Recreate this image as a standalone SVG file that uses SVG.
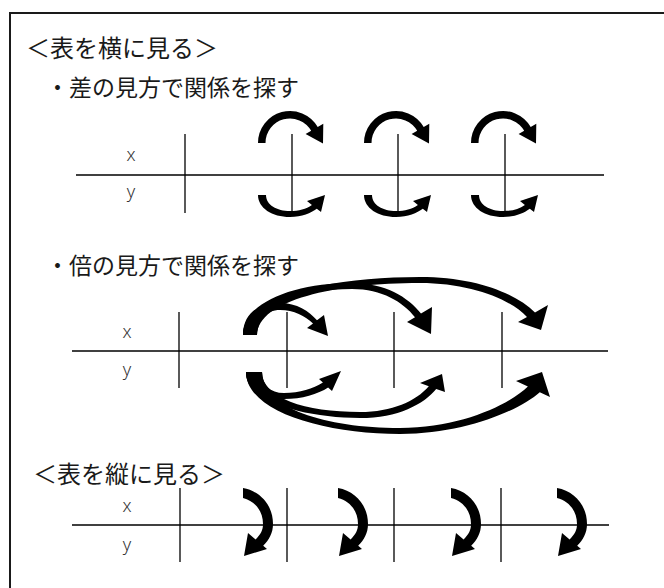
<svg xmlns="http://www.w3.org/2000/svg" width="664" height="588" viewBox="0 0 664 588">
<style>
.frame{fill:none;stroke:#1a1a1a;stroke-width:2}
.ln{stroke:#000;stroke-width:1.3;fill:none}
.t{font-family:"Noto Sans CJK JP","Noto Sans CJK SC",sans-serif;font-size:24px;fill:#1a1a1a}
.s{font-family:"Noto Sans CJK JP","Noto Sans CJK SC",sans-serif;font-size:23px;fill:#1a1a1a}
.lb{font-family:"Noto Sans","Liberation Sans",sans-serif;font-weight:300;font-size:18px;fill:#333;text-anchor:middle}
.ar{fill:#000}
</style>
<defs>
<path id="topArc" class="ar" d="M -34 143 A 32 32 0 0 1 25.7 127 L 31.3 123.75 L 31 143.6 L 13.6 134 L 19.2 130.75 A 24.5 24.5 0 0 0 -26.5 143 Z"/>
<path id="botArc" class="ar" d="M -34 195 C -34 208 -20 217 -2 217 C 10 217 19 213 24.8 208.7 L 29 212 L 33 195 L 15 201 L 19.9 204.9 C 14 209 7 211 -2 211 C -15 211 -26 205 -26 195 Z"/>
<path id="vArc" class="ar" d="M 0 488 C 17 491 30 505 30 524 C 30 533 26 540 20.2 545.8 L 24 549 L 1 556 L 5 533 L 12.6 539.4 C 18 534 20 530 20 524 C 20 511 12 501 0 498 Z"/>
</defs>
<g id="frame"><path class="frame" d="M 10 588 L 10 13 L 664 13"/></g>
<g id="title1"><text class="t" x="26" y="57">＜表を横に見る＞</text></g>
<g id="sub1"><text class="s" x="46" y="96">・差の見方で関係を探す</text></g>
<g id="table1">
<line class="ln" x1="76" y1="175" x2="604" y2="175"/>
<line class="ln" x1="185" y1="134" x2="185" y2="213"/>
<line class="ln" x1="292" y1="134" x2="292" y2="213"/>
<line class="ln" x1="398" y1="134" x2="398" y2="213"/>
<line class="ln" x1="505" y1="134" x2="505" y2="213"/>
<text class="lb" x="131" y="161">x</text>
<text class="lb" x="131" y="198">y</text>
</g>
<g id="sub2"><text class="s" x="46" y="274">・倍の見方で関係を探す</text></g>
<g id="table2">
<line class="ln" x1="72" y1="351" x2="608" y2="351"/>
<line class="ln" x1="179" y1="312" x2="179" y2="388"/>
<line class="ln" x1="287" y1="312" x2="287" y2="388"/>
<line class="ln" x1="394" y1="312" x2="394" y2="388"/>
<line class="ln" x1="502" y1="312" x2="502" y2="388"/>
<text class="lb" x="127" y="338">x</text>
<text class="lb" x="127" y="376">y</text>
</g>
<g id="title3"><text class="t" x="33" y="483">＜表を縦に見る＞</text></g>
<g id="table3">
<line class="ln" x1="72" y1="525" x2="609" y2="525"/>
<line class="ln" x1="180" y1="488" x2="180" y2="562"/>
<line class="ln" x1="287" y1="488" x2="287" y2="562"/>
<line class="ln" x1="394" y1="488" x2="394" y2="562"/>
<line class="ln" x1="501" y1="488" x2="501" y2="562"/>
<text class="lb" x="127" y="512">x</text>
<text class="lb" x="127" y="551">y</text>
</g>
<g id="connectors">
<use href="#topArc" transform="translate(292,0)"/>
<use href="#topArc" transform="translate(398,0)"/>
<use href="#topArc" transform="translate(505,0)"/>
<use href="#botArc" transform="translate(292,0)"/>
<use href="#botArc" transform="translate(398,0)"/>
<use href="#botArc" transform="translate(505,0)"/>
<path class="ar" d="M 243 335 C 243 313 259 303 280 303 C 297 303 309 311 317 320.3 L 324 315 L 328 336 L 307 328 L 313 323.4 C 305 316 294 310 280 310 C 266 310 257 320 257 335 Z"/>
<path class="ar" d="M 243 335 C 243 302 295 283 352 283 C 385 283 408 297 421 313.6 L 432 307 L 431 334 L 407 322 L 415 317.2 C 403 302 382 289 352 289 C 300 289 258 305 257 335 Z"/>
<path class="ar" d="M 243 335 C 243 296 330 277 420 277 C 475 277 515 293 535 312.4 L 548 305 L 541 330 L 518 322 L 527 316.9 C 510 299 470 283 420 283 C 335 283 258 300 257 335 Z"/>
<path class="ar" d="M 246 372 C 246 390 262 399 284 399 C 302 399 318 394 328.1 387.4 L 332 391 L 341 371 L 319 379 L 322.9 382.6 C 313 389 300 393 284 393 C 270 393 262 385 262 372 Z"/>
<path class="ar" d="M 246 372 C 246 402 305 418 360 418 C 398 418 424 404 436.2 388.9 L 445 392 L 442 374 L 420 383 L 428.8 386.2 C 416 401 392 412 360 412 C 305 412 262 398 262 372 Z"/>
<path class="ar" d="M 246 372 C 246 412 325 434 400 434 C 465 434 520 410 539.8 392.2 L 550 397 L 542 372 L 516 381 L 527.9 386.6 C 510 404 462 428 400 428 C 325 428 262 408 262 372 Z"/>
<use href="#vArc" transform="translate(243,0)"/>
<use href="#vArc" transform="translate(338,0)"/>
<use href="#vArc" transform="translate(451,0)"/>
<use href="#vArc" transform="translate(557,0)"/>
</g>
</svg>
